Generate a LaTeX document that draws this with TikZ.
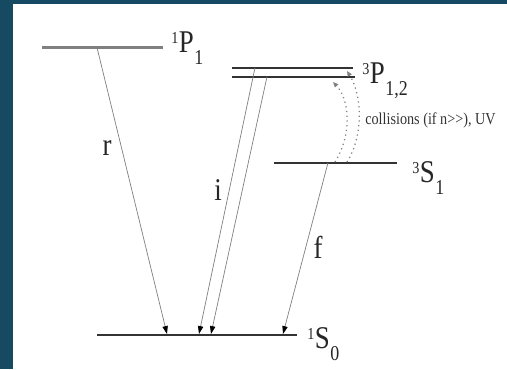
\documentclass[tikz,border=0pt]{standalone}
\usepackage{fontspec}
\setmainfont[FakeStretch=0.85]{Liberation Serif}
\usetikzlibrary{arrows.meta}
\definecolor{frame}{RGB}{22,73,98}
\newcommand{\term}[3]{\raisebox{5pt}{\fontsize{9.5}{10}\selectfont #1}\kern0.3pt#2\kern0.3pt\raisebox{-7pt}{\fontsize{12}{12}\selectfont #3}}

\begin{document}
\begin{tikzpicture}[x=0.02cm, y=-0.02cm,
    lvl/.style={line width=1pt, black!80},
    trans/.style={-{Triangle[length=4.5pt,width=3pt,color=black]}, gray, line width=0.4pt},
    coll/.style={-{Triangle[length=3pt,width=2.5pt]}, dotted, gray, line width=0.7pt},
    lab/.style={anchor=base west, inner sep=0pt, font=\fontsize{18}{20}\selectfont, text=black!85}]
  \fill[frame] (0,0) rectangle (507,369);
  \fill[white] (13,4) rectangle (507,369);
  \useasboundingbox (0,0) rectangle (507,369);

  \draw[lvl, gray, line width=1.8pt] (42,47.5) -- (163,47.5);
  \draw[lvl] (232,67.7) -- (353,67.7);
  \draw[lvl] (232,76.7) -- (355,76.7);
  \draw[lvl] (274,162.7) -- (397,162.7);
  \draw[lvl] (97,335) -- (297,335);

  \node (P1) [lab] at (171,52) {\term{1}{P}{1}};
  \node (P3) [lab] at (362,83) {\term{3}{P}{1,2}};
  \node (S3) [lab] at (412,182) {\term{3}{S}{1}};
  \node (S1) [lab] at (307,348) {\term{1}{S}{0}};

  \coordinate (r0) at (97,47.5);  \coordinate (r1) at (167,334);
  \coordinate (i0) at (255,67.7); \coordinate (i1) at (199,334);
  \coordinate (j0) at (267,76.7); \coordinate (j1) at (211,334);
  \coordinate (f0) at (328,162.7); \coordinate (f1) at (283,334);
  \coordinate (c0) at (335,162);  \coordinate (c1) at (333,82);
  \coordinate (d0) at (347,162);  \coordinate (d1) at (347,71);

  \draw[trans] (r0) -- (r1);
  \draw[trans] (i0) -- (i1);
  \draw[trans] (j0) -- (j1);
  \draw[trans] (f0) -- (f1);
  \draw[coll] (c0) .. controls (352,135) and (350,100) .. (c1);
  \draw[coll] (d0) .. controls (364,135) and (362,95) .. (d1);

  \node (r) [lab, anchor=base] at (107,155) {r};
  \node (i) [lab, anchor=base] at (218,200) {i};
  \node (f) [lab, anchor=base] at (318,258) {f};
  \node (coll) [anchor=base west, inner sep=0pt, font=\fontsize{9.5}{10}\selectfont, text=black!80] at (365,124) {collisions (if n>\kern0pt>), UV};
\end{tikzpicture}
\end{document}
